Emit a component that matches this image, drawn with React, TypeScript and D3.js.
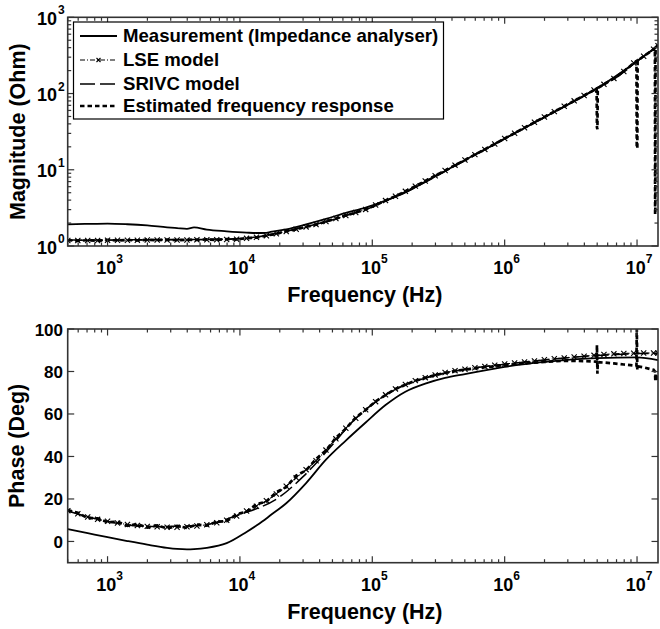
import React from "react";
import * as d3 from "d3";

// ---------- DATA ----------
const gridFreq = [501, 596, 708, 841, 1000, 1189, 1413, 1679, 1995, 2371, 2818, 3350, 3981, 4732, 5623, 6683, 7943, 9441, 11220, 13335, 15849, 18836, 22387, 26607, 31623, 37584, 44668, 53088, 63096, 74989, 89125, 105925, 125893, 149624, 177828, 211349, 251189, 298538, 354813, 421697, 501187, 595662, 707946, 841395, 1000000, 1188502, 1412538, 1678804, 1995262, 2371374, 2818383, 3349654, 3981072, 4731513, 5623413, 6683439, 7943282, 9440609, 11220185, 13335214, 14400000];

const lseMag = [1.18, 1.18, 1.18, 1.18, 1.19, 1.19, 1.19, 1.19, 1.2, 1.2, 1.2, 1.2, 1.2, 1.21, 1.21, 1.21, 1.22, 1.23, 1.26, 1.3, 1.36, 1.45, 1.55, 1.66, 1.78, 1.91, 2.09, 2.29, 2.51, 2.75, 3.02, 3.45, 3.94, 4.5, 5.21, 6.1, 7.13, 8.36, 9.77, 11.5, 13.4, 15.8, 18.5, 21.8, 25.7, 30.2, 35.6, 41.9, 49.2, 57.9, 68.1, 80.2, 94.3, 111, 132, 158, 195, 251, 309, 380, 425];

const lsePhase = [14.5, 13.0, 11.5, 10.4, 9.5, 8.7, 8.0, 7.5, 7.1, 6.9, 6.7, 6.7, 6.9, 7.3, 7.9, 8.8, 10.0, 12.0, 14.3, 16.6, 19.2, 22.3, 26.0, 30.0, 33.8, 38.0, 43.0, 48.3, 53.3, 58.0, 62.0, 65.8, 69.0, 71.8, 73.9, 75.7, 77.1, 78.4, 79.5, 80.4, 81.1, 81.8, 82.4, 83.0, 83.5, 84.0, 84.5, 85.0, 85.5, 86.0, 86.4, 86.8, 87.2, 87.6, 88.0, 88.3, 88.5, 88.6, 88.7, 88.7, 88.7];

const srivcFreq = [500, 1000, 2000, 5000, 10000, 20000, 30000, 50000, 70000, 100000, 150000, 200000, 300000, 500000, 1e6, 2e6, 3e6, 5e6, 7e6, 1e7, 1.2e7, 1.44e7];
const srivcMag = [1.2, 1.2, 1.21, 1.22, 1.25, 1.5, 1.76, 2.2, 2.65, 3.25, 4.45, 5.6, 8.1, 13.2, 25.5, 49, 72, 118, 163, 265, 335, 425];
const srivcPhase = [14.3, 9.4, 7.0, 7.6, 12.7, 21, 30.5, 45.5, 56, 64.5, 71.5, 74.8, 78.2, 80.9, 83.4, 85.4, 86.5, 87.5, 88.0, 88.4, 88.5, 88.5];

const measFreq = [501, 708, 1000, 1413, 1995, 2818, 3350, 3981, 4500, 5623, 7943, 11220, 13335, 15849, 17000, 22387, 31623, 44668, 63096, 89125, 125893, 177828, 251189, 354813, 501187, 1e6, 2e6, 5e6, 1e7, 1.44e7];
const measMag = [1.92, 1.95, 1.97, 1.93, 1.86, 1.76, 1.72, 1.68, 1.75, 1.64, 1.56, 1.5, 1.48, 1.49, 1.53, 1.65, 1.92, 2.27, 2.72, 3.2, 3.95, 5.05, 6.95, 9.65, 13.4, 25.6, 49, 117, 265, 425];
const measPhase = [5.8, 3.9, 2.0, 0.2, -1.5, -3.0, -3.5, -3.7, -3.6, -3.0, -0.8, 4.5, 7.5, 10.8, 12.3, 18, 27.5, 38.5, 47.5, 56, 64.2, 70.5, 74.3, 77, 78.8, 82.2, 84.5, 86.3, 86.6, 85.3];

const estFreq = [501, 596, 708, 841, 1000, 1189, 1413, 1679, 1995, 2371, 2818, 3350, 3981, 4732, 5623, 6683, 7943, 9441, 11220, 13335, 15849, 18836, 22387, 26607, 31623, 37584, 44668, 53088, 63096, 74989, 89125, 105925, 125893, 149624, 177828, 211349, 251189, 298538, 354813, 421697, 501187, 595662, 707946, 841395, 1000000, 1188502, 1412538, 1678804, 1995262, 2371374, 2818383, 3349654, 3981072, 4731513, 4950000, 4980000, 5020000, 5050000, 5623413, 6683439, 7943282, 9440609, 9900000, 9950000, 10050000, 10100000, 11220185, 13335214, 13650000, 13700000, 13750000, 13800000, 14400000];
const estMag = [1.19, 1.17, 1.19, 1.17, 1.2, 1.18, 1.2, 1.18, 1.21, 1.19, 1.21, 1.19, 1.21, 1.2, 1.22, 1.2, 1.23, 1.22, 1.27, 1.29, 1.37, 1.44, 1.56, 1.65, 1.79, 1.9, 2.1, 2.28, 2.52, 2.74, 3.03, 3.44, 3.95, 4.49, 5.22, 6.09, 7.14, 8.35, 9.78, 11.5, 13.4, 15.8, 18.5, 21.8, 25.7, 30.2, 35.6, 41.9, 49.2, 57.9, 68.1, 80.2, 94.3, 111, 116, 36, 34, 118, 132, 158, 195, 251, 266, 20, 19, 270, 309, 380, 395, 2.6, 2.6, 400, 425];
const estPhase = [14.8, 13.5, 11.0, 10.9, 9.0, 9.3, 7.4, 8.2, 6.5, 7.6, 6.1, 7.3, 6.4, 7.9, 7.5, 9.3, 9.6, 12.8, 14.0, 17.5, 18.8, 23.2, 25.6, 31.0, 33.5, 38.8, 42.8, 48.8, 53.1, 58.3, 61.9, 65.9, 68.9, 71.8, 73.8, 75.6, 77.0, 78.3, 79.3, 80.2, 80.9, 81.5, 82.0, 82.5, 83.0, 83.4, 83.8, 84.2, 84.5, 84.8, 85.0, 85.0, 84.9, 84.7, 84.5, 92.4, 79.0, 84.4, 84.2, 83.8, 83.3, 82.8, 82.6, 102, 81.0, 82.4, 81.9, 80.8, 80.0, 78.0, 75.5, 79.0, 76.0];

const xTickExps = [3, 4, 5, 6, 7];
const magTickExps = [0, 1, 2, 3];
const phaseTicks = [0, 20, 40, 60, 80, 100];
const legendLabels = ["Measurement (Impedance analyser)", "LSE model", "SRIVC model", "Estimated frequency response"];

// ---------- LAYOUT ----------
const W = 660, H = 629;
const L = 67.7, R = 658;
const magTop = 17.3, magBot = 246;
const phTop = 329, phBot = 562.7;
const FONT = "'Liberation Sans', Arial, Helvetica, sans-serif";
const AX = "#333";

const x = d3.scaleLog().domain([500, 1.44e7]).range([L, R]);
const yMag = d3.scaleLog().domain([1, 1000]).range([magBot, magTop]);
const yPh = d3.scaleLinear().domain([-10, 100]).range([phBot, phTop]);

type Pt = [number, number];
const zip = (f: number[], v: number[]): Pt[] => f.slice(0, Math.min(f.length, v.length)).map((fi, i) => [fi, v[i]]);

const styles = {
  meas: { strokeWidth: 1.8 },
  lse: { strokeWidth: 1.1, dash: "5,2,1,2" },
  srivc: { strokeWidth: 1.5, dash: "15,5" },
  est: { strokeWidth: 2.7, dash: "4.5,3" },
};

function XMarker({ cx, cy, s = 2.6 }: { cx: number; cy: number; s?: number }) {
  return (
    <path d={`M${cx - s},${cy - s}L${cx + s},${cy + s}M${cx - s},${cy + s}L${cx + s},${cy - s}`} stroke="#000" strokeWidth={1.1} fill="none" />
  );
}

function Panel({ y, top, bot, id, series, yTicks, yTickLabel, minorY }: any) {
  const xt = x.ticks();
  const lineSmooth = (pts: Pt[]) => d3.line<Pt>().x(d => x(d[0])).y(d => y(d[1])).curve(d3.curveMonotoneX)(pts) || "";
  const lineLin = (pts: Pt[]) => d3.line<Pt>().x(d => x(d[0])).y(d => y(d[1]))(pts) || "";
  const isMajor = (v: number) => Math.abs(Math.log10(v) - Math.round(Math.log10(v))) < 1e-9;
  return (
    <g>
      <clipPath id={id}>
        <rect x={L} y={top} width={R - L} height={bot - top} />
      </clipPath>
      <g clipPath={`url(#${id})`} fill="none">
        <path d={lineSmooth(series.meas)} stroke="#000" strokeWidth={styles.meas.strokeWidth} />
        <path d={lineSmooth(series.srivc)} stroke="#000" strokeWidth={styles.srivc.strokeWidth} strokeDasharray={styles.srivc.dash} />
        <path d={lineSmooth(series.lse)} stroke="#000" strokeWidth={styles.lse.strokeWidth} strokeDasharray={styles.lse.dash} />
        {series.lse.map((d: Pt, i: number) => (
          <XMarker key={i} cx={x(d[0])} cy={y(d[1])} />
        ))}
        <path d={lineLin(series.est)} stroke="#000" strokeWidth={styles.est.strokeWidth} strokeDasharray={styles.est.dash} />
      </g>
      <rect x={L} y={top} width={R - L} height={bot - top} fill="none" stroke={AX} strokeWidth={1.6} />
      {xt.map((v, i) => {
        const len = isMajor(v) ? 6.5 : 3.5;
        const xx = x(v);
        return (
          <g key={i} stroke={AX} strokeWidth={1.2}>
            <line x1={xx} x2={xx} y1={bot} y2={bot - len} />
            <line x1={xx} x2={xx} y1={top} y2={top + len} />
          </g>
        );
      })}
      {xTickExps.map(e => (
        <text key={e} x={x(Math.pow(10, e)) + 2} y={bot + 28} textAnchor="middle" fontFamily={FONT} fontWeight="bold" fontSize={18} fill="#000">
          10<tspan dy={-11} fontSize={12}>{e}</tspan>
        </text>
      ))}
      {minorY.map((v: number, i: number) => (
        <g key={"m" + i} stroke={AX} strokeWidth={1.2}>
          <line x1={L} x2={L + 3.5} y1={y(v)} y2={y(v)} />
          <line x1={R} x2={R - 3.5} y1={y(v)} y2={y(v)} />
        </g>
      ))}
      {yTicks.map((v: number, i: number) => (
        <g key={"M" + i}>
          <line x1={L} x2={L + 6.5} y1={y(v)} y2={y(v)} stroke={AX} strokeWidth={1.2} />
          <line x1={R} x2={R - 6.5} y1={y(v)} y2={y(v)} stroke={AX} strokeWidth={1.2} />
          {yTickLabel(v)}
        </g>
      ))}
      <text x={(L + R) / 2 + 2} y={bot + 56} textAnchor="middle" fontFamily={FONT} fontWeight="bold" fontSize={21.5} fill="#000">
        Frequency (Hz)
      </text>
    </g>
  );
}

export default function App() {
  const magSeries = {
    meas: zip(measFreq, measMag),
    lse: zip(gridFreq, lseMag),
    srivc: zip(srivcFreq, srivcMag),
    est: zip(estFreq, estMag),
  };
  const phSeries = {
    meas: zip(measFreq, measPhase),
    lse: zip(gridFreq, lsePhase),
    srivc: zip(srivcFreq, srivcPhase),
    est: zip(estFreq, estPhase),
  };
  const magMinor = yMag.ticks().filter(v => Math.abs(Math.log10(v) - Math.round(Math.log10(v))) > 1e-9);
  const legendRowsY = [42, 66, 90, 112];
  const lx1 = 80, lx2 = 117;
  return (
    <svg width={W} height={H} style={{ position: "absolute", left: 0, top: 0, background: "#fff" }}>
      <rect width={W} height={H} fill="#fff" />
      <Panel
        y={yMag}
        top={magTop}
        bot={magBot}
        id="clipMag"
        series={magSeries}
        yTicks={magTickExps.map(e => Math.pow(10, e))}
        minorY={magMinor}
        yTickLabel={(v: number) => (
          <text x={57} y={yMag(v) + 7.5} textAnchor="end" fontFamily={FONT} fontWeight="bold" fontSize={18} fill="#000">
            10<tspan x={58} dy={-10.5} fontSize={12} textAnchor="start">{Math.round(Math.log10(v))}</tspan>
          </text>
        )}
      />
      <Panel
        y={yPh}
        top={phTop}
        bot={phBot}
        id="clipPh"
        series={phSeries}
        yTicks={phaseTicks}
        minorY={[]}
        yTickLabel={(v: number) => (
          <text x={63} y={yPh(v) + 6.5} textAnchor="end" fontFamily={FONT} fontWeight="bold" fontSize={17} fill="#000">
            {v}
          </text>
        )}
      />
      <text transform={`translate(25,${(magTop + magBot) / 2}) rotate(-90)`} textAnchor="middle" fontFamily={FONT} fontWeight="bold" fontSize={21.5} fill="#000">
        Magnitude (Ohm)
      </text>
      <text transform={`translate(24,${(phTop + phBot) / 2}) rotate(-90)`} textAnchor="middle" fontFamily={FONT} fontWeight="bold" fontSize={21.5} fill="#000">
        Phase (Deg)
      </text>
      <g>
        <rect x={73.5} y={22} width={370} height={97} fill="#fff" stroke="#000" strokeWidth={1.2} />
        {legendLabels.map((lab, i) => (
          <text key={lab} x={123} y={legendRowsY[i]} fontFamily={FONT} fontWeight="bold" fontSize={18.6} fill="#000">
            {lab}
          </text>
        ))}
        <line x1={lx1} x2={lx2} y1={legendRowsY[0] - 6} y2={legendRowsY[0] - 6} stroke="#000" strokeWidth={styles.meas.strokeWidth} />
        <line x1={lx1} x2={lx2} y1={legendRowsY[1] - 6} y2={legendRowsY[1] - 6} stroke="#000" strokeWidth={styles.lse.strokeWidth} strokeDasharray={styles.lse.dash} />
        <XMarker cx={(lx1 + lx2) / 2} cy={legendRowsY[1] - 6} s={2} />
        <line x1={lx1} x2={lx2} y1={legendRowsY[2] - 6} y2={legendRowsY[2] - 6} stroke="#000" strokeWidth={styles.srivc.strokeWidth} strokeDasharray={styles.srivc.dash} />
        <line x1={lx1} x2={lx2} y1={legendRowsY[3] - 6} y2={legendRowsY[3] - 6} stroke="#000" strokeWidth={styles.est.strokeWidth} strokeDasharray={styles.est.dash} />
      </g>
    </svg>
  );
}
